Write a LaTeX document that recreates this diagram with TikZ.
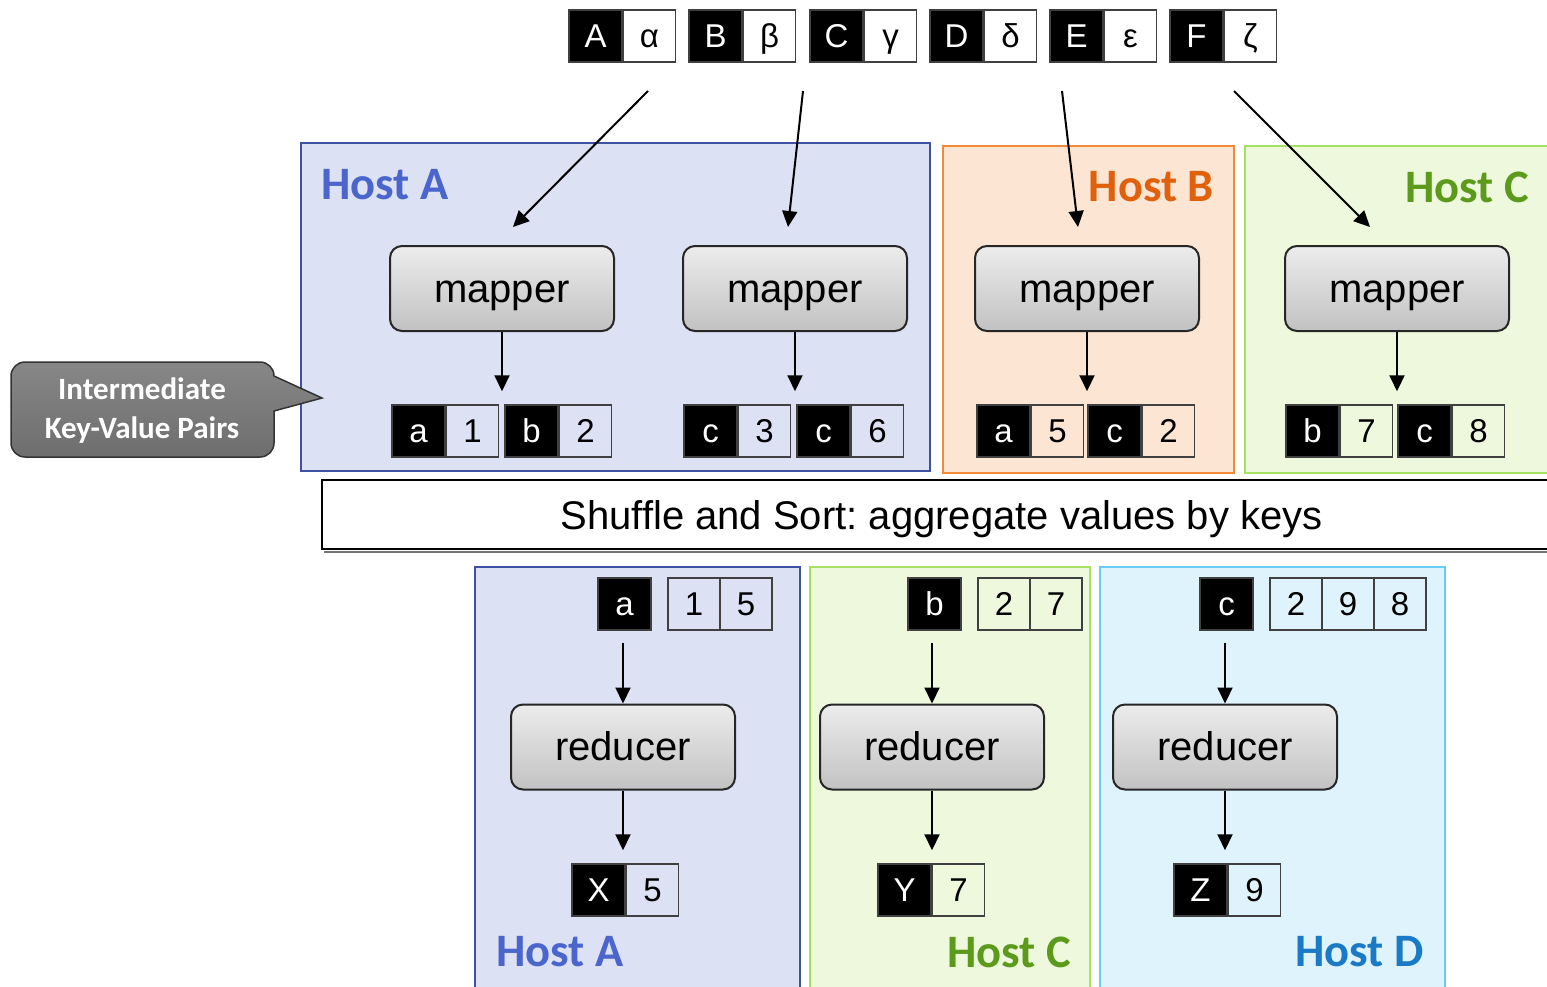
\documentclass[tikz,border=0pt]{standalone}
\usepackage{fontspec}
\setmainfont{Liberation Sans}
\newfontfamily\calibri{Carlito}
\usetikzlibrary{arrows.meta}
\frenchspacing

\definecolor{hostAfill}{HTML}{DCE1F3}
\definecolor{hostAline}{HTML}{3F51A3}
\definecolor{hostAtext}{HTML}{4A66CC}
\definecolor{hostBfill}{HTML}{FDE5D3}
\definecolor{hostBline}{HTML}{F28A38}
\definecolor{hostBtext}{HTML}{E0600B}
\definecolor{hostCfill}{HTML}{EDF8DD}
\definecolor{hostCline}{HTML}{A6E262}
\definecolor{hostCtext}{HTML}{5C9A1C}
\definecolor{hostDfill}{HTML}{DEF3FB}
\definecolor{hostDline}{HTML}{68CDF2}
\definecolor{hostDtext}{HTML}{1B7AC6}
\definecolor{cellline}{HTML}{404040}
\definecolor{proctop}{HTML}{ECECEC}
\definecolor{procbot}{HTML}{C2C2C2}
\definecolor{calltop}{HTML}{878787}
\definecolor{callbot}{HTML}{6E6E6E}

\tikzset{
  hostbox/.style={line width=2pt},
  hostlabel/.style={font=\calibri\bfseries\fontsize{46.5}{46.5}\selectfont, inner sep=0pt},
  kcell/.style={draw=cellline, fill=black, text=white, line width=1.5pt,
    minimum width=53pt, minimum height=52pt, inner sep=0pt,
    text height=23pt, text depth=0pt, font=\fontsize{33}{33}\selectfont},
  vcell/.style={draw=cellline, line width=1.5pt,
    minimum width=52pt, minimum height=52pt, inner sep=0pt,
    text height=23pt, text depth=0pt, font=\fontsize{33}{33}\selectfont},
  proc/.style={draw=black!85, line width=2pt, rounded corners=12pt,
    top color=proctop, bottom color=procbot,
    minimum width=224pt, minimum height=85pt, inner sep=0pt,
    text height=27pt, text depth=0pt,
    font=\fontsize{40}{40}\selectfont},
  arr/.style={-{Triangle[length=16pt,width=15pt]}, line width=2pt},
}

% key/value pair: name, left x, centre y, key, value
\newcommand\kvpair[5]{%
  \node[kcell] (#1k) at (#2+26.5,#3) {#4};
  \node[vcell, anchor=west] (#1v) at (#1k.east) {#5};
}

\begin{document}
\begin{tikzpicture}[x=1pt,y=-1pt]
\useasboundingbox (0,0) rectangle (1547,986);
\clip (0,0) rectangle (1547,986);

% host areas: map phase
\draw[hostbox, draw=hostAline, fill=hostAfill] (301,143) rectangle (930,471);
\draw[hostbox, draw=hostBline, fill=hostBfill] (943,146) rectangle (1234,473);
\draw[hostbox, draw=hostCline, fill=hostCfill] (1245,146) rectangle (1565,473);
% host areas: reduce phase
\draw[hostbox, draw=hostAline, fill=hostAfill] (475,567) rectangle (800,1000);
\draw[hostbox, draw=hostCline, fill=hostCfill] (810,567) rectangle (1090,1000);
\draw[hostbox, draw=hostDline, fill=hostDfill] (1100,567) rectangle (1445,1000);

\node[hostlabel, text=hostAtext, anchor=west] (lA1) at (321,185) {Host A};
\node[hostlabel, text=hostBtext, anchor=east] (lB1) at (1214,187) {Host B};
\node[hostlabel, text=hostCtext, anchor=east] (lC1) at (1529,187) {Host C};
\node[hostlabel, text=hostAtext, anchor=west] (lA2) at (496,952) {Host A};
\node[hostlabel, text=hostCtext, anchor=east] (lC2) at (1071,952) {Host C};
\node[hostlabel, text=hostDtext, anchor=east] (lD2) at (1424,952) {Host D};

% input pairs
\kvpair{pA}{569}{36}{A}{α}
\kvpair{pB}{689}{36}{B}{β}
\kvpair{pC}{810}{36}{C}{γ}
\kvpair{pD}{930}{36}{D}{δ}
\kvpair{pE}{1050}{36}{E}{ε}
\kvpair{pF}{1170}{36}{F}{ζ}

% mappers
\node[proc] (m1) at (502,288.5) {mapper};
\node[proc] (m2) at (795,288.5) {mapper};
\node[proc] (m3) at (1087,288.5) {mapper};
\node[proc] (m4) at (1397,288.5) {mapper};

% input arrows
\coordinate (s1) at (648,91);  \coordinate (e1) at (513,227);
\coordinate (s2) at (803,91);  \coordinate (e2) at (788,227);
\coordinate (s3) at (1062,91); \coordinate (e3) at (1078,227);
\coordinate (s4) at (1234,91); \coordinate (e4) at (1370,227);
\draw[arr] (s1) -- (e1);
\draw[arr] (s2) -- (e2);
\draw[arr] (s3) -- (e3);
\draw[arr] (s4) -- (e4);

% intermediate pairs
\kvpair{ia1}{392}{431}{a}{1}
\kvpair{ib2}{505}{431}{b}{2}
\kvpair{ic3}{684}{431}{c}{3}
\kvpair{ic6}{797}{431}{c}{6}
\kvpair{ia5}{977}{431}{a}{5}
\kvpair{ic2}{1088}{431}{c}{2}
\kvpair{ib7}{1286}{431}{b}{7}
\kvpair{ic8}{1398}{431}{c}{8}

\draw[arr, shorten >=13pt] (m1.south) -- (m1.south |- ia1k.north);
\draw[arr, shorten >=13pt] (m2.south) -- (m2.south |- ic3k.north);
\draw[arr, shorten >=13pt] (m3.south) -- (m3.south |- ia5k.north);
\draw[arr, shorten >=13pt] (m4.south) -- (m4.south |- ib7k.north);

% callout
\draw[draw=black!80, line width=1.5pt, top color=calltop, bottom color=callbot]
  (322,398) -- (274,411) [rounded corners=14pt] -- (274,457) -- (11,457)
  -- (11,362) -- (274,362) [sharp corners] -- (274,376) -- cycle;
\node[text=white, align=center, inner sep=0pt,
  font=\calibri\bfseries\fontsize{31}{39}\selectfont] (callout) at (142,411)
  {Intermediate\\Key-Value Pairs};

% shuffle stage
\draw[black!55, line width=2pt] (324,552) -- (1565,552);
\node[draw=black, line width=2pt, fill=white, anchor=west,
  minimum width=1239pt, minimum height=69pt, inner sep=0pt,
  text height=29pt, text depth=0pt,
  font=\fontsize{40}{40}\selectfont] (shuffle) at (321,514.5)
  {Shuffle and Sort: aggregate values by keys};

% grouped values
\node[kcell] (ga) at (624.5,604) {a};
\node[vcell] (ga1) at (694,604) {1};
\node[vcell] (ga2) at (746,604) {5};
\node[kcell] (gb) at (934.5,604) {b};
\node[vcell] (gb1) at (1004,604) {2};
\node[vcell] (gb2) at (1056,604) {7};
\node[kcell] (gc) at (1226.5,604) {c};
\node[vcell] (gc1) at (1296,604) {2};
\node[vcell] (gc2) at (1348,604) {9};
\node[vcell] (gc3) at (1400,604) {8};

% reducers
\node[proc] (r1) at (623,747) {reducer};
\node[proc] (r2) at (932,747) {reducer};
\node[proc] (r3) at (1225,747) {reducer};

\draw[arr, shorten <=12pt] (r1.north |- ga.south) -- (r1.north);
\draw[arr, shorten <=12pt] (r2.north |- gb.south) -- (r2.north);
\draw[arr, shorten <=12pt] (r3.north |- gc.south) -- (r3.north);

% output pairs
\kvpair{oX}{572}{890}{X}{5}
\kvpair{oY}{878}{890}{Y}{7}
\kvpair{oZ}{1174}{890}{Z}{9}

\draw[arr, shorten >=13pt] (r1.south) -- (r1.south |- oXk.north);
\draw[arr, shorten >=13pt] (r2.south) -- (r2.south |- oYk.north);
\draw[arr, shorten >=13pt] (r3.south) -- (r3.south |- oZk.north);
\end{tikzpicture}
\end{document}
